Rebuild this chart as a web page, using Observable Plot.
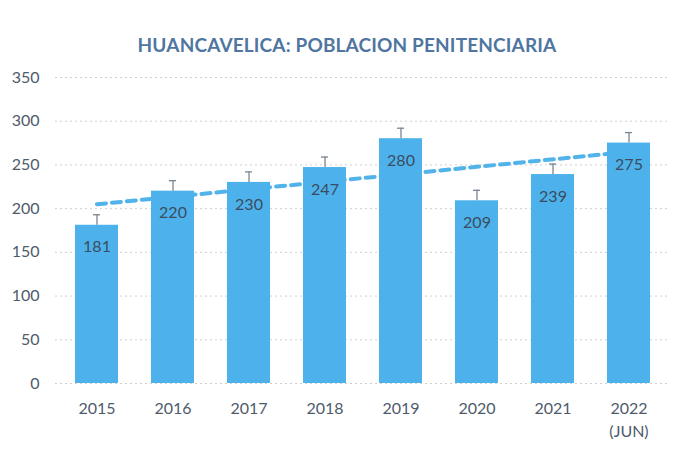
<!DOCTYPE html>
<html>
<head>
<meta charset="utf-8">
<script src="https://cdn.jsdelivr.net/npm/d3@7"></script>
<script src="https://cdn.jsdelivr.net/npm/@observablehq/plot@0.6"></script>
<style>
  html, body { margin: 0; padding: 0; background: #fff; }
  #title { height: 62px; box-sizing: border-box; padding-top: 33px; text-align: center;
    font-family: Lato, sans-serif; font-weight: bold; font-size: 19px; letter-spacing: 0.15px; color: #4f76a0; line-height: 23px; }
  #chart svg { display: block; }
</style>
</head>
<body>
<div id="title">HUANCAVELICA: POBLACION PENITENCIARIA</div>
<div id="chart"></div>
<script>
const years = ["2015", "2016", "2017", "2018", "2019", "2020", "2021", "2022\n(JUN)"];
const values = [181, 220, 230, 247, 280, 209, 239, 275];
const errors = [12, 12, 12, 12, 12, 12, 12, 12];
const yTicks = [0, 50, 100, 150, 200, 250, 300, 350];
const trendYears = ["2015", "2022\n(JUN)"];
const trendValues = [205, 265];

const data = years.map((y, i) => ({year: y, value: values[i], err: errors[i]}));
const trend = trendYears.map((y, i) => ({year: y, value: trendValues[i]}));

const font = "Lato, sans-serif";
const plot = Plot.plot({
  width: 694,
  height: 393,
  marginLeft: 55,
  marginRight: 24,
  marginTop: 15,
  marginBottom: 72,
  style: {fontFamily: font, background: "#fff"},
  x: {domain: years, paddingInner: 0.43, paddingOuter: 0.215, label: null},
  y: {domain: [0, 350], label: null},
  marks: [
    Plot.gridY(yTicks, {stroke: "#cfcfcf", strokeOpacity: 1, strokeDasharray: "2,3"}),
    Plot.line(trend, {x: "year", y: "value", stroke: "#52b2ea", strokeWidth: 4, strokeDasharray: "9,6", strokeLinecap: "round"}),
    Plot.barY(data, {x: "year", y: "value", fill: "#4db2eb"}),
    Plot.ruleX(data, {x: "year", y1: "value", y2: d => d.value + d.err, stroke: "#7a8592", strokeWidth: 1.3}),
    Plot.tickY(data, {x: "year", y: d => d.value + d.err, stroke: "#7a8592", strokeWidth: 1.3, inset: 18}),
    Plot.text(data, {x: "year", y: "value", text: d => String(d.value), dy: 22, fill: "#3b4c61", fontSize: 16, fontFamily: font}),
    Plot.axisY(yTicks, {tickSize: 0, tickPadding: 16, fontSize: 16, fill: "#4e5b6b", fontFamily: font}),
    Plot.axisX({tickSize: 0, tickPadding: 15, fontSize: 16, fill: "#4e5b6b", fontFamily: font, lineHeight: 1.4})
  ]
});
document.getElementById("chart").appendChild(plot);
</script>
</body>
</html>
